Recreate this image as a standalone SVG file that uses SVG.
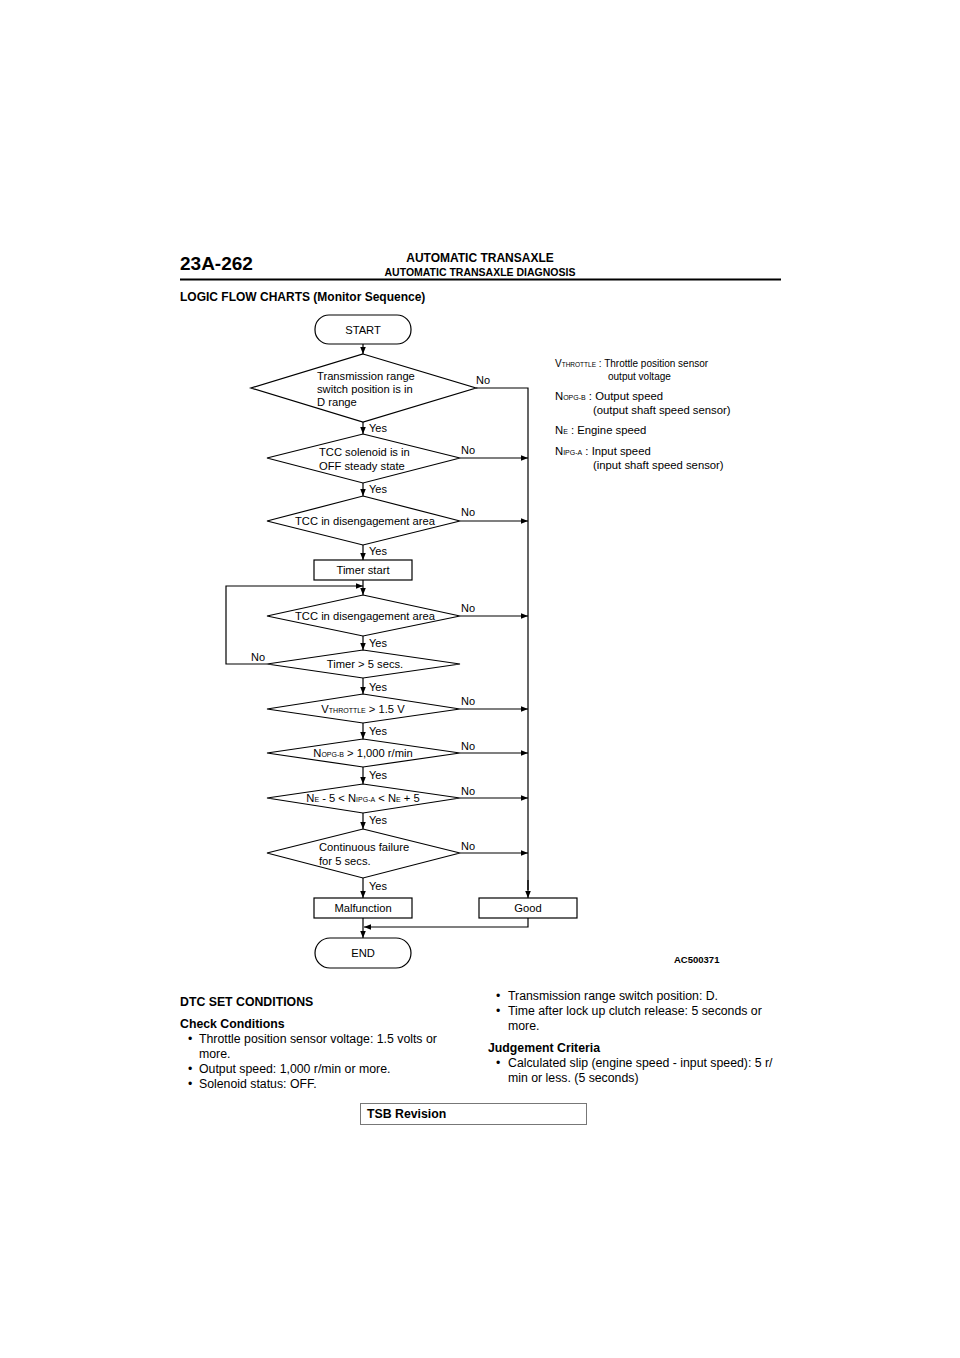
<svg xmlns="http://www.w3.org/2000/svg" width="960" height="1358" viewBox="0 0 960 1358">
<defs>
<marker id="ah" viewBox="0 0 10 10" refX="10" refY="5" markerWidth="7" markerHeight="7" markerUnits="userSpaceOnUse" orient="auto">
<path d="M0,1 L10,5 L0,9 Z" fill="#000"/>
</marker>
<style>
.t{font-family:"Liberation Sans",Arial,sans-serif;fill:#000}
.fc{font-size:11.2px}
.lbl{font-size:11px}
.b{font-weight:bold}
.sh{fill:#fff;stroke:#000;stroke-width:1.2}
.ln{fill:none;stroke:#000;stroke-width:1.2}
.ar{fill:none;stroke:#000;stroke-width:1.2;marker-end:url(#ah)}
.sub{font-size:7px}
.body{font-size:12.3px}
</style>
</defs>
<rect width="960" height="1358" fill="#fff"/>
<g id="header">
<text class="t b" x="180" y="270" font-size="19">23A-262</text>
<text class="t b" x="480" y="262" font-size="12" text-anchor="middle">AUTOMATIC TRANSAXLE</text>
<text class="t b" x="480" y="276" font-size="10.5" text-anchor="middle">AUTOMATIC TRANSAXLE DIAGNOSIS</text>
<line x1="180" y1="279.5" x2="781" y2="279.5" stroke="#000" stroke-width="2"/>
<text class="t b" x="180" y="301" font-size="12">LOGIC FLOW CHARTS (Monitor Sequence)</text>
</g>
<g id="connectors">
<line class="ar" x1="363" y1="344" x2="363" y2="354"/>
<line class="ar" x1="363" y1="422" x2="363" y2="434"/>
<line class="ar" x1="363" y1="483" x2="363" y2="496"/>
<line class="ar" x1="363" y1="545" x2="363" y2="560"/>
<line class="ar" x1="363" y1="580" x2="363" y2="595"/>
<line class="ar" x1="363" y1="636" x2="363" y2="650"/>
<line class="ar" x1="363" y1="678" x2="363" y2="694"/>
<line class="ar" x1="363" y1="723" x2="363" y2="739"/>
<line class="ar" x1="363" y1="767" x2="363" y2="784"/>
<line class="ar" x1="363" y1="813" x2="363" y2="829"/>
<line class="ar" x1="363" y1="878" x2="363" y2="898"/>
<line class="ar" x1="363" y1="918" x2="363" y2="938"/>
<polyline class="ln" points="476,388 528,388 528,890"/>
<line class="ar" x1="528" y1="880" x2="528" y2="898"/>
<line class="ar" x1="460" y1="458" x2="528" y2="458"/>
<line class="ar" x1="460" y1="521" x2="528" y2="521"/>
<line class="ar" x1="460" y1="616" x2="528" y2="616"/>
<line class="ar" x1="460" y1="709" x2="528" y2="709"/>
<line class="ar" x1="460" y1="753" x2="528" y2="753"/>
<line class="ar" x1="460" y1="798" x2="528" y2="798"/>
<line class="ar" x1="460" y1="853" x2="528" y2="853"/>
<polyline class="ar" points="267,664 226,664 226,586 363,586"/>
<polyline class="ar" points="528,918 528,927 364,927"/>
<text class="t lbl" x="369" y="432">Yes</text>
<text class="t lbl" x="369" y="493">Yes</text>
<text class="t lbl" x="369" y="555">Yes</text>
<text class="t lbl" x="369" y="647">Yes</text>
<text class="t lbl" x="369" y="691">Yes</text>
<text class="t lbl" x="369" y="735">Yes</text>
<text class="t lbl" x="369" y="779">Yes</text>
<text class="t lbl" x="369" y="824">Yes</text>
<text class="t lbl" x="369" y="890">Yes</text>
<text class="t lbl" x="476" y="384">No</text>
<text class="t lbl" x="461" y="454">No</text>
<text class="t lbl" x="461" y="516">No</text>
<text class="t lbl" x="461" y="612">No</text>
<text class="t lbl" x="461" y="705">No</text>
<text class="t lbl" x="461" y="750">No</text>
<text class="t lbl" x="461" y="795">No</text>
<text class="t lbl" x="461" y="850">No</text>
<text class="t lbl" x="251" y="661">No</text>
</g>
<g id="start">
<rect class="sh" x="315" y="315" width="96" height="29" rx="14" ry="14"/>
<text class="t fc" x="363" y="334" text-anchor="middle">START</text>
</g>
<g id="d1">
<polygon class="sh" points="363,354 476,388 363,422 251,388"/>
<text class="t fc" x="317" y="380">Transmission range</text>
<text class="t fc" x="317" y="393">switch position is in</text>
<text class="t fc" x="317" y="406">D range</text>
</g>
<g id="d2">
<polygon class="sh" points="363,434 460,458 363,483 267,458"/>
<text class="t fc" x="319" y="456">TCC solenoid is in</text>
<text class="t fc" x="319" y="470">OFF steady state</text>
</g>
<g id="d3">
<polygon class="sh" points="363,496 460,521 363,545 267,521"/>
<text class="t fc" x="365" y="525" text-anchor="middle">TCC in disengagement area</text>
</g>
<g id="timerstart">
<rect class="sh" x="314" y="560" width="98" height="20"/>
<text class="t fc" x="363" y="574" text-anchor="middle">Timer start</text>
</g>
<g id="d4">
<polygon class="sh" points="363,595 460,616 363,636 267,616"/>
<text class="t fc" x="365" y="620" text-anchor="middle">TCC in disengagement area</text>
</g>
<g id="d5">
<polygon class="sh" points="363,650 460,664 363,678 267,664"/>
<text class="t fc" x="365" y="668" text-anchor="middle">Timer &gt; 5 secs.</text>
</g>
<g id="d6">
<polygon class="sh" points="363,694 460,709 363,723 267,709"/>
<text class="t fc" x="363" y="713" text-anchor="middle">V<tspan class="sub">THROTTLE</tspan> &gt; 1.5 V</text>
</g>
<g id="d7">
<polygon class="sh" points="363,739 460,753 363,767 267,753"/>
<text class="t fc" x="363" y="757" text-anchor="middle">N<tspan class="sub">OPG-B</tspan> &gt; 1,000 r/min</text>
</g>
<g id="d8">
<polygon class="sh" points="363,784 460,798 363,813 267,798"/>
<text class="t fc" x="363" y="802" text-anchor="middle">N<tspan class="sub">E</tspan> - 5 &lt; N<tspan class="sub">IPG-A</tspan> &lt; N<tspan class="sub">E</tspan> + 5</text>
</g>
<g id="d9">
<polygon class="sh" points="363,829 460,853 363,878 267,853"/>
<text class="t fc" x="319" y="851">Continuous failure</text>
<text class="t fc" x="319" y="865">for 5 secs.</text>
</g>
<g id="malfunction">
<rect class="sh" x="314" y="898" width="98" height="20"/>
<text class="t fc" x="363" y="912" text-anchor="middle">Malfunction</text>
</g>
<g id="good">
<rect class="sh" x="479" y="898" width="98" height="20"/>
<text class="t fc" x="528" y="912" text-anchor="middle">Good</text>
</g>
<g id="end">
<rect class="sh" x="315" y="938" width="96" height="30" rx="15" ry="15"/>
<text class="t fc" x="363" y="957" text-anchor="middle">END</text>
</g>
<g id="legend">
<text class="t" x="555" y="367" font-size="10">V<tspan font-size="6.5">THROTTLE</tspan> : Throttle position sensor</text>
<text class="t" x="608" y="380" font-size="10">output voltage</text>
<text class="t" x="555" y="400" font-size="11.3">N<tspan class="sub">OPG-B</tspan> : Output speed</text>
<text class="t" x="593" y="414" font-size="11.3">(output shaft speed sensor)</text>
<text class="t" x="555" y="434" font-size="11.3">N<tspan class="sub">E</tspan> : Engine speed</text>
<text class="t" x="555" y="455" font-size="11.3">N<tspan class="sub">IPG-A</tspan> : Input speed</text>
<text class="t" x="593" y="469" font-size="11.3">(input shaft speed sensor)</text>
<text class="t b" x="674" y="963" font-size="9.5">AC500371</text>
</g>
<g id="conditions">
<text class="t b body" x="180" y="1006">DTC SET CONDITIONS</text>
<text class="t b body" x="180" y="1028">Check Conditions</text>
<text class="t body" x="188" y="1043">•</text>
<text class="t body" x="199" y="1043">Throttle position sensor voltage: 1.5 volts or</text>
<text class="t body" x="199" y="1058">more.</text>
<text class="t body" x="188" y="1073">•</text>
<text class="t body" x="199" y="1073">Output speed: 1,000 r/min or more.</text>
<text class="t body" x="188" y="1088">•</text>
<text class="t body" x="199" y="1088">Solenoid status: OFF.</text>
<text class="t body" x="496" y="1000">•</text>
<text class="t body" x="508" y="1000">Transmission range switch position: D.</text>
<text class="t body" x="496" y="1015">•</text>
<text class="t body" x="508" y="1015">Time after lock up clutch release: 5 seconds or</text>
<text class="t body" x="508" y="1030">more.</text>
<text class="t b body" x="488" y="1052">Judgement Criteria</text>
<text class="t body" x="496" y="1067">•</text>
<text class="t body" x="508" y="1067">Calculated slip (engine speed - input speed): 5 r/</text>
<text class="t body" x="508" y="1082">min or less. (5 seconds)</text>
</g>
<g id="tsb">
<rect x="360.5" y="1103.5" width="226" height="21" fill="#fff" stroke="#777" stroke-width="1"/>
<text class="t b body" x="367" y="1118">TSB Revision</text>
</g>
</svg>
